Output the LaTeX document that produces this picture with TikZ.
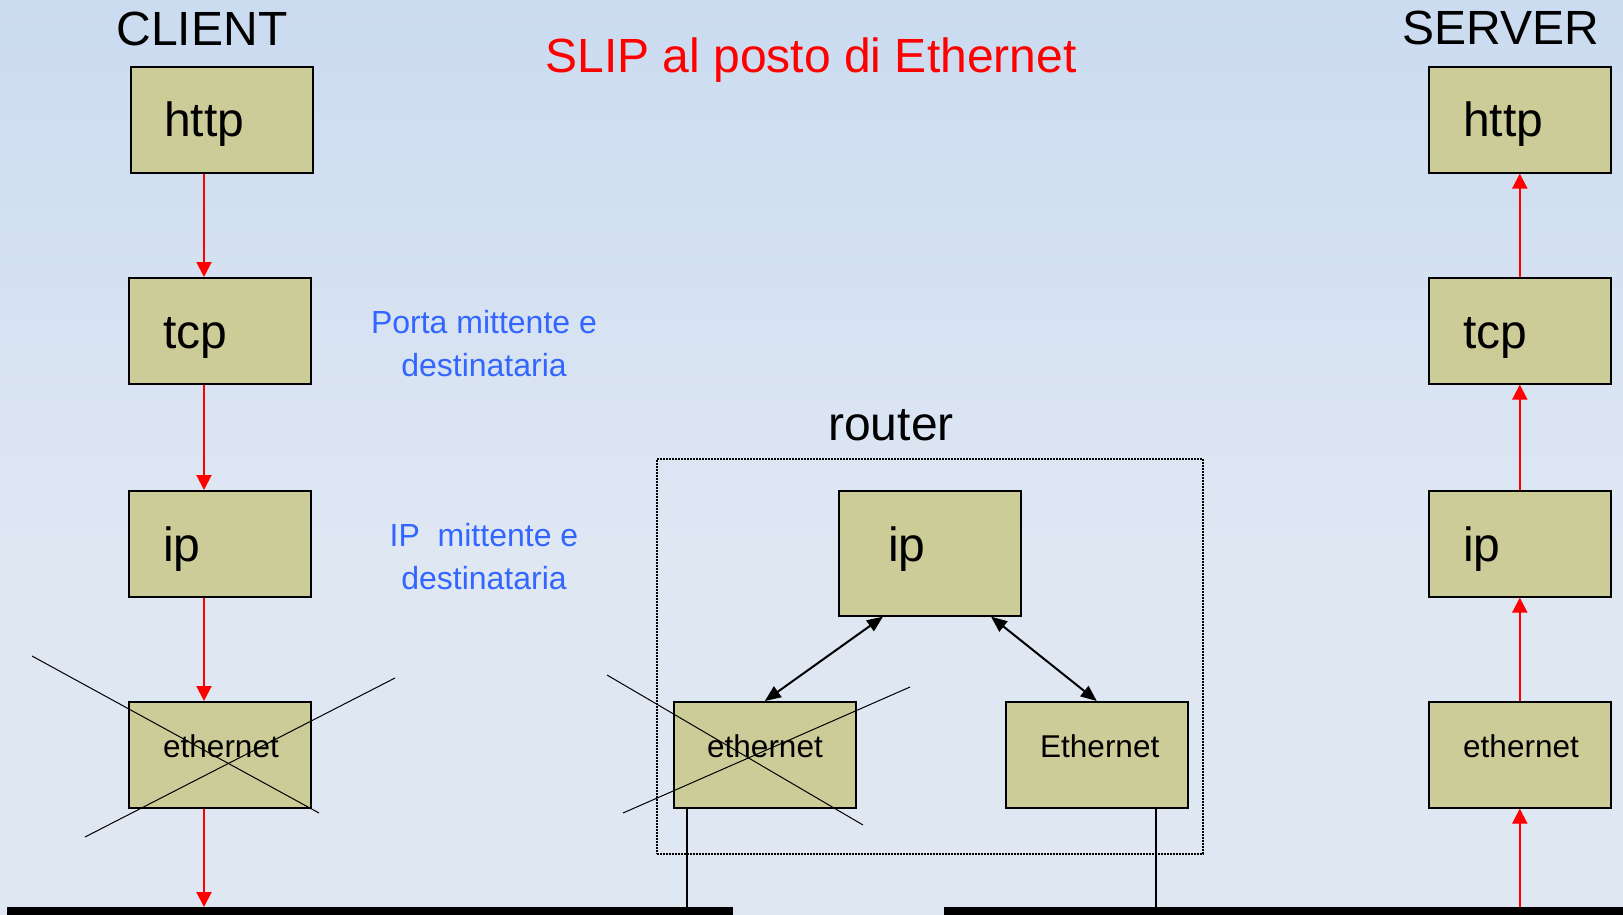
\documentclass[tikz,border=0pt]{standalone}
\usepackage{fontspec}
\setmainfont{Liberation Sans}
\usetikzlibrary{arrows.meta,calc}

\definecolor{bgtop}{RGB}{186,209,237}
\definecolor{bgbot}{RGB}{223,231,243}
\definecolor{layer}{RGB}{204,204,153}
\definecolor{note}{RGB}{51,102,255}
\pgfdeclareverticalshading{bgshade}{100bp}{color(0bp)=(bgbot); color(45bp)=(bgbot); color(100bp)=(bgtop)}

\begin{document}
\begin{tikzpicture}[x=1pt,y=-1pt,
  layerbox/.style={draw=black, fill=layer, line width=1.6pt, minimum width=182pt,
                   minimum height=106pt, inner sep=0pt, anchor=north west},
  big/.style={font=\fontsize{48}{56}\selectfont, inner sep=0pt},
  small/.style={font=\fontsize{31.5}{38}\selectfont, inner sep=0pt},
  notetext/.style={font=\fontsize{32}{38}\selectfont, text=note, inner sep=0pt, anchor=base},
  flow/.style={draw=red, line width=2pt, -{Triangle[length=15pt,width=15pt]}},
  link/.style={line width=2pt, {Triangle[length=16pt,width=13pt]}-{Triangle[length=16pt,width=13pt]}},
  cross/.style={line width=1pt},
  wire/.style={line width=1.5pt},
  bus/.style={fill=black, draw=none, inner sep=0pt, anchor=north west}]

% background
\useasboundingbox (0,0) rectangle (1623,915);
\fill[shading=bgshade] (0,0) rectangle (1623,915);

% headings
\node[big, anchor=base] (client) at (202,46) {CLIENT};
\node[big, anchor=base] (server) at (1501,45) {SERVER};
\node[big, anchor=base, text=red] (title) at (811,73) {SLIP al posto di Ethernet};
\node[big, anchor=base] (routerlbl) at (891,440) {router};

% client stack
\node[layerbox] (c-http) at (130,66) {};
\node[layerbox] (c-tcp)  at (128,277) {};
\node[layerbox] (c-ip)   at (128,490) {};
\node[layerbox] (c-eth)  at (128,701) {};
\node[big, anchor=base west]   (c-http-t) at ($(c-http.north west)+(34,71)$) {http};
\node[big, anchor=base west]   (c-tcp-t)  at ($(c-tcp.north west)+(35,71)$) {tcp};
\node[big, anchor=base west]   (c-ip-t)   at ($(c-ip.north west)+(35,71)$) {ip};
\node[small, anchor=base west] (c-eth-t)  at ($(c-eth.north west)+(35,56)$) {ethernet};

% server stack
\node[layerbox] (s-http) at (1428,66) {};
\node[layerbox] (s-tcp)  at (1428,277) {};
\node[layerbox] (s-ip)   at (1428,490) {};
\node[layerbox] (s-eth)  at (1428,701) {};
\node[big, anchor=base west]   (s-http-t) at ($(s-http.north west)+(35,71)$) {http};
\node[big, anchor=base west]   (s-tcp-t)  at ($(s-tcp.north west)+(35,71)$) {tcp};
\node[big, anchor=base west]   (s-ip-t)   at ($(s-ip.north west)+(35,71)$) {ip};
\node[small, anchor=base west] (s-eth-t)  at ($(s-eth.north west)+(35,56)$) {ethernet};

% router
\node[draw, line width=1.5pt, dash pattern=on 2pt off 1pt, minimum width=546pt,
      minimum height=395pt, inner sep=0pt, anchor=north west] (rbox) at (656,458) {};
\node[layerbox, minimum height=125pt] (r-ip) at (838,490) {};
\node[layerbox] (r-eth1) at (673,701) {};
\node[layerbox] (r-eth2) at (1005,701) {};
\node[big, anchor=base west]   (r-ip-t)   at ($(r-ip.north west)+(50,71)$) {ip};
\node[small, anchor=base west] (r-eth1-t) at ($(r-eth1.north west)+(34,56)$) {ethernet};
\node[small, anchor=base west] (r-eth2-t) at ($(r-eth2.north west)+(35,56)$) {Ethernet};

% notes
\node[notetext] (n1a) at (484,333) {Porta mittente e};
\node[notetext] (n1b) at (484,376) {destinataria};
\node[notetext] (n2a) at (484,546) {IP\ \ mittente e};
\node[notetext] (n2b) at (484,589) {destinataria};

% networks
\node[bus, minimum width=726pt, minimum height=12pt] (lan1) at (7,907) {};
\node[bus, minimum width=690pt, minimum height=12pt] (lan2) at (944,907) {};

% vertical positions of the connectors
\coordinate (cax) at (204,0);
\coordinate (lw)  at (687,0);
\coordinate (rw)  at (1156,0);

% client flow (down the stack)
\draw[flow] (c-http.south -| cax) -- (c-tcp.north -| cax);
\draw[flow] (c-tcp.south -| cax)  -- (c-ip.north -| cax);
\draw[flow] (c-ip.south -| cax)   -- (c-eth.north -| cax);
\draw[flow] (c-eth.south -| cax)  -- (lan1.north -| cax);

% server flow (up the stack)
\draw[flow] (s-eth.south |- lan2.north) -- (s-eth.south);
\draw[flow] (s-eth.north) -- (s-ip.south);
\draw[flow] (s-ip.north)  -- (s-tcp.south);
\draw[flow] (s-tcp.north) -- (s-http.south);

% router links
\draw[link] ($(r-ip.south west)+(45,0)$)  -- (r-eth1.north);
\draw[link] ($(r-ip.south west)+(153,0)$) -- (r-eth2.north);
\draw[wire] (r-eth1.south -| lw) -- (lan1.north -| lw);
\draw[wire] (r-eth2.south -| rw) -- (lan2.north -| rw);

% crossed-out ethernet layers
\draw[cross] (32,656) -- (319,813);
\draw[cross] (85,837) -- (395,678);
\draw[cross] (607,675) -- (863,825);
\draw[cross] (623,813) -- (910,687);
\end{tikzpicture}
\end{document}
